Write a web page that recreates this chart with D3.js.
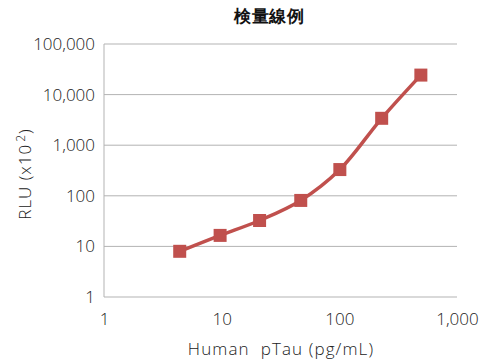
<!DOCTYPE html>
<html>
<head>
<meta charset="utf-8">
<script src="https://cdn.jsdelivr.net/npm/d3@7"></script>
<style>
  body { margin: 0; background: #fff; }
  text { font-family: "Open Sans", "Noto Sans", sans-serif; }
</style>
</head>
<body>
<div id="chart"></div>
<script>
// dati
const concentrations = [4.4, 9.7, 21, 47, 101, 229, 493];
const rluValues = [8, 16.5, 32.5, 81, 330, 3400, 24300];
const xTicks = [1, 10, 100, 1000];
const yTicks = [1, 10, 100, 1000, 10000, 100000];

const width = 483, height = 363;
const margin = {top: 44, right: 26, bottom: 66, left: 104};

const svg = d3.select("#chart").append("svg")
    .attr("width", width)
    .attr("height", height);

const x = d3.scaleLog().domain([1, 1000]).range([margin.left, width - margin.right]);
const y = d3.scaleLog().domain([1, 100000]).range([height - margin.bottom, margin.top]);

const fmt = d3.format(",");
const labelColor = "#222";

// titolo
svg.append("text")
    .attr("x", 269).attr("y", 22)
    .attr("text-anchor", "middle")
    .attr("font-family", "\"Noto Sans CJK JP\", sans-serif")
    .attr("font-size", 17).attr("font-weight", "bold")
    .attr("letter-spacing", 0.5)
    .attr("fill", "#111")
    .text("検量線例");

// griglia orizzontale
svg.append("g")
    .selectAll("line")
    .data(yTicks)
    .join("line")
    .attr("x1", margin.left).attr("x2", width - margin.right)
    .attr("y1", d => y(d)).attr("y2", d => y(d))
    .attr("stroke", "#b3b3b3").attr("stroke-width", 1);

// asse sinistro
svg.append("line")
    .attr("x1", margin.left).attr("x2", margin.left)
    .attr("y1", margin.top).attr("y2", height - margin.bottom)
    .attr("stroke", "#b3b3b3");

// etichette asse y
const yAxis = svg.append("g")
    .attr("transform", `translate(${margin.left},0)`)
    .call(d3.axisLeft(y).tickValues(yTicks).tickFormat(fmt).tickSize(0).tickPadding(9));
yAxis.select(".domain").remove();
yAxis.selectAll("text")
    .attr("font-size", 17).attr("fill", labelColor).attr("font-weight", 300)
    .attr("font-family", "\"Open Sans\", sans-serif");

// etichette asse x
const xAxis = svg.append("g")
    .attr("transform", `translate(0,${height - margin.bottom})`)
    .call(d3.axisBottom(x).tickValues(xTicks).tickFormat(fmt).tickSize(0));
xAxis.select(".domain").remove();
xAxis.selectAll("text")
    .attr("y", 28).attr("dy", 0)
    .attr("font-size", 17).attr("fill", labelColor).attr("font-weight", 300)
    .attr("font-family", "\"Open Sans\", sans-serif");

// titoli degli assi
svg.append("text")
    .attr("x", 281).attr("y", 355)
    .attr("text-anchor", "middle")
    .attr("font-size", 17).attr("font-weight", 300)
    .attr("letter-spacing", 1.1)
    .attr("fill", labelColor)
    .attr("xml:space", "preserve")
    .text("Human  pTau (pg/mL)");

const yTitle = svg.append("text")
    .attr("transform", "translate(31,174) rotate(-90)")
    .attr("text-anchor", "middle")
    .attr("font-size", 17).attr("font-weight", 300)
    .attr("letter-spacing", 1)
    .attr("fill", labelColor);
yTitle.append("tspan").text("RLU (x10");
yTitle.append("tspan").attr("font-size", 12).attr("dy", -6).attr("dx", 2).text("2");
yTitle.append("tspan").attr("dy", 6).text(")");

// linea
const data = concentrations.map((c, i) => ({x: c, y: rluValues[i]}));
const line = d3.line()
    .x(d => x(d.x))
    .y(d => y(d.y))
    .curve(d3.curveCatmullRom.alpha(0.5));

svg.append("path")
    .datum(data)
    .attr("fill", "none")
    .attr("stroke", "#c0504d")
    .attr("stroke-width", 3.5)
    .attr("d", line);

// marcatori quadrati
const s = 13;
svg.append("g")
    .selectAll("rect")
    .data(data)
    .join("rect")
    .attr("x", d => x(d.x) - s / 2)
    .attr("y", d => y(d.y) - s / 2)
    .attr("width", s).attr("height", s)
    .attr("fill", "#c0504d");
</script>
</body>
</html>
